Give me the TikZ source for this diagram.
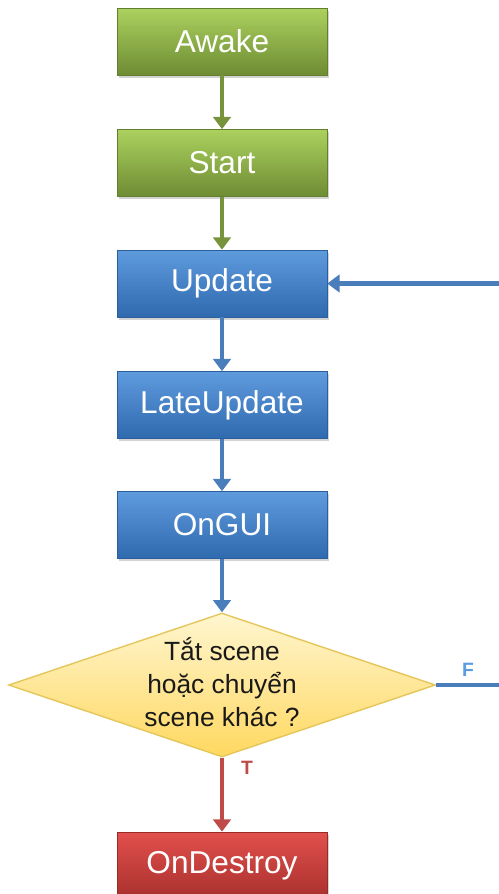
\documentclass[tikz,border=0pt]{standalone}
\usepackage{fontspec}
\setmainfont{Liberation Sans}
\usetikzlibrary{shapes.geometric,arrows.meta,shadows}
\definecolor{gtop}{HTML}{ACD15E}
\definecolor{gbot}{HTML}{6E8C34}
\definecolor{gline}{HTML}{77933C}
\definecolor{btop}{HTML}{5E9BDD}
\definecolor{bbot}{HTML}{2F69AE}
\definecolor{bline}{HTML}{4A7EBB}
\definecolor{flbl}{HTML}{5B9BE0}
\definecolor{rtop}{HTML}{E2504C}
\definecolor{rbot}{HTML}{A8302D}
\definecolor{rline}{HTML}{BE4B48}
\definecolor{ytop}{HTML}{FFF6D0}
\definecolor{ybot}{HTML}{FFD860}
\definecolor{yline}{HTML}{E5C65A}
\tikzset{
  procbox/.style={rectangle, minimum width=4.2cm, minimum height=1.34cm, inner sep=0pt,
    text=white, font=\fontsize{18}{20}\selectfont, drop shadow={opacity=0.35,shadow xshift=0.04cm,shadow yshift=-0.05cm}},
  greenbox/.style={procbox, top color=gtop, bottom color=gbot, draw=gbot!90!black, line width=0.4pt},
  bluebox/.style={procbox, top color=btop, bottom color=bbot, draw=bbot!90!black, line width=0.4pt},
  redbox/.style={procbox, top color=rtop, bottom color=rbot, draw=rbot!90!black, line width=0.4pt},
  decision/.style={diamond, aspect=2.96, minimum width=8.54cm, minimum height=2.88cm, inner sep=0pt,
    top color=ytop, bottom color=ybot, draw=yline, line width=0.8pt,
    align=center, font=\fontsize{15}{18.8}\selectfont, text=black!90},
  conn/.style={line width=2.4pt, -{Triangle[length=7pt,width=10pt]}},
  lbl/.style={font=\bfseries\fontsize{11}{12}\selectfont}
}
\begin{document}
\begin{tikzpicture}[x=0.02cm,y=-0.02cm]
\useasboundingbox (0,0) rectangle (499,894);
\node[greenbox] (awake) at (222,41.5) {Awake};
\node[greenbox] (start) at (222,163) {Start};
\node[bluebox] (update) at (222,283.5) {Update};
\node[bluebox] (late) at (222,405) {LateUpdate};
\node[bluebox] (gui) at (222,525) {OnGUI};
\node[decision] (dec) at (222,685) {};
\node[align=center, font=\fontsize{15}{18.8}\selectfont, text=black!90, inner sep=0pt] (dectext) at (222,682) {Tắt scene\\hoặc chuyển\\scene khác ?};
\node[redbox] (destroy) at (222,865.5) {OnDestroy};
\coordinate (loopR) at (504,685);
\draw[conn, gline] (awake) -- (start);
\draw[conn, gline] (start) -- (update);
\draw[conn, bline] (update) -- (late);
\draw[conn, bline] (late) -- (gui);
\draw[conn, bline] (gui) -- (dec.north);
\draw[conn, rline] (dec.south) -- (destroy);
\draw[conn, bline] (dec.east) -- (loopR) |- (update.east);
\node[lbl, text=flbl] (flabel) at (468,670) {F};
\node[lbl, text=rline] (tlabel) at (247,768) {T};
\end{tikzpicture}
\end{document}
